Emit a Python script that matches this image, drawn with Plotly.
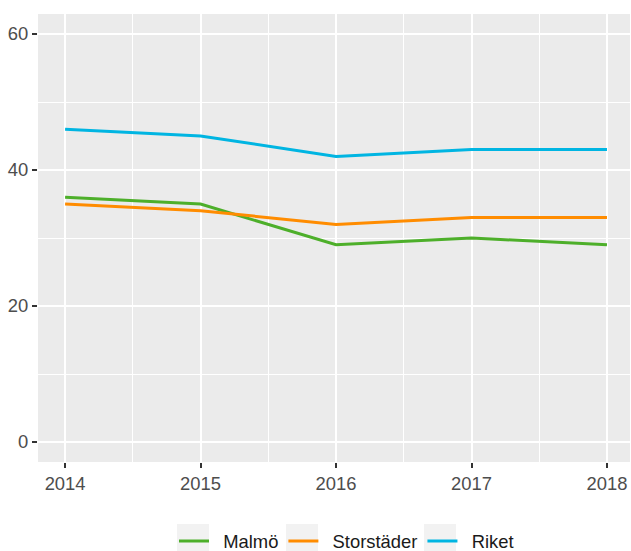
import plotly.graph_objects as go

years = [2014, 2015, 2016, 2017, 2018]
malmo = [36, 35, 29, 30, 29]
storstader = [35, 34, 32, 33, 33]
riket = [46, 45, 42, 43, 43]

series = [
    ("Malmö", malmo, "#4DAF2A"),
    ("Storstäder", storstader, "#FF8C00"),
    ("Riket", riket, "#00B5E2"),
]

fig = go.Figure()
for name, vals, col in series:
    fig.add_trace(go.Scatter(x=years, y=vals, name="\u2002" + name, mode="lines",
                             line=dict(color=col, width=3)))

font = "Liberation Sans, Arial, sans-serif"
L, R, T, B = 38, 1, 14, 89
W, H = 631, 551
pw, ph = W - L - R, H - T - B

def px_x(p):
    return (p - L) / pw

def px_y(p):
    return (H - B - p) / ph

# grey legend key backgrounds (ggplot style)
key_boxes = [(177, 209), (286, 318), (424, 456)]
shapes = [dict(type="rect", xref="paper", yref="paper",
               x0=px_x(a), x1=px_x(b), y0=px_y(558), y1=px_y(524),
               fillcolor="#F2F2F2", line=dict(width=0), layer="below")
          for a, b in key_boxes]

fig.update_layout(
    width=W, height=H,
    margin=dict(l=L, r=R, t=T, b=B, autoexpand=False),
    paper_bgcolor="white",
    plot_bgcolor="#EBEBEB",
    font=dict(family=font, size=18.4, color="#4D4D4D"),
    showlegend=True,
    shapes=shapes,
    legend=dict(orientation="h", x=px_x(174), xanchor="left",
                y=px_y(541), yanchor="middle",
                font=dict(size=18.4, color="#1A1A1A"), itemwidth=30,
                bgcolor="rgba(0,0,0,0)"),
    xaxis=dict(range=[2013.8, 2018.17], tickvals=years, ticktext=[str(y) for y in years],
               showgrid=True, gridcolor="white", gridwidth=2.2, zeroline=False,
               automargin=False,
               ticks="outside", ticklen=5, tickwidth=2, tickcolor="#333333",
               tickfont=dict(size=18.4, color="#4D4D4D"),
               minor=dict(tickvals=[2014.5, 2015.5, 2016.5, 2017.5], showgrid=True,
                          gridcolor="white", gridwidth=1.1, ticks="")),
    yaxis=dict(range=[-2.94, 62.94], tickvals=[0, 20, 40, 60],
               showgrid=True, gridcolor="white", gridwidth=2.2, zeroline=False,
               automargin=False,
               ticks="outside", ticklen=5, tickwidth=2, tickcolor="#333333",
               tickfont=dict(size=18.4, color="#4D4D4D"),
               minor=dict(tickvals=[10, 30, 50], showgrid=True,
                          gridcolor="white", gridwidth=1.1, ticks="")),
)

fig.write_html("out.html", config={"displayModeBar": False},
               post_script="document.body.style.margin='0';document.body.style.overflow='hidden';")
